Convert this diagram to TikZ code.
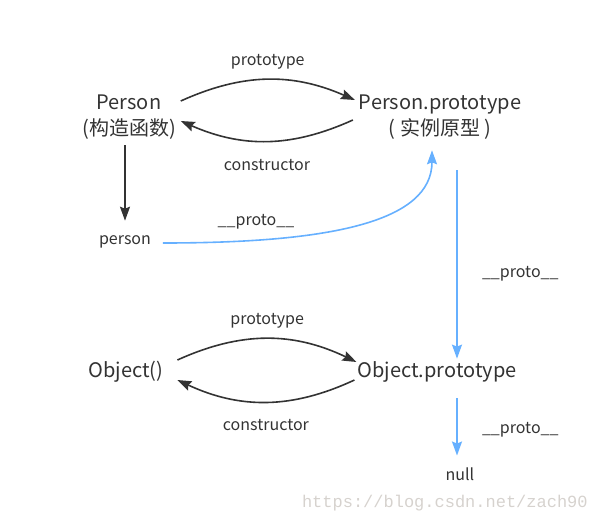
\documentclass[tikz,border=0pt]{standalone}
\usepackage{fontspec}
\setmainfont{Noto Sans CJK SC}
\newfontfamily\markfont{Liberation Mono}
\usetikzlibrary{arrows.meta,positioning}

\definecolor{ink}{RGB}{51,51,51}
\definecolor{protoblue}{RGB}{102,176,255}
\definecolor{markgray}{RGB}{214,210,206}

\begin{document}
\begin{tikzpicture}[x=1pt, y=-1pt,
	every node/.style={text=ink, inner sep=0pt, outer sep=4pt},
	big/.style={font=\fontsize{20}{26}\selectfont, align=center},
	small/.style={font=\fontsize{16}{19}\selectfont, inner sep=3pt, outer sep=0pt},
	blackline/.style={draw=ink, line width=1.6pt, arrows={-Stealth[length=14pt,width=10pt,inset=2pt]}},
	blueline/.style={draw=protoblue, line width=1.6pt, arrows={-Stealth[length=14pt,width=10pt,inset=2pt]}}]
	\useasboundingbox (0,0) rectangle (590,525);

	\node[big] (Person) at (129,117) {Person\\(构造函数)};
	\node[big] (Pproto) at (440,117) {Person.prototype\\( 实例原型 )};
	\node[small] (person) at (125,242) {person};
	\node[big] (Obj) at (126,372) {Object()};
	\node[big] (Oproto) at (437,372) {Object.prototype};
	\node[small] (null) at (460,474) {null};

	% Person <-> Person.prototype
	\draw [blackline] ([xshift=1pt,yshift=16pt]Person.east) to[bend left=24]
		node [small,midway,above=7pt] {prototype} ([yshift=17pt]Pproto.west);
	\draw [blackline] ([xshift=-2pt,yshift=-3pt]Pproto.west) to[bend left=24]
		node [small,midway,below=15pt] {constructor} ([xshift=1pt,yshift=-4pt]Person.east);
	\draw [blackline] ([xshift=-4pt,yshift=-2pt]Person.south) -- ([yshift=12pt]person.north);

	% __proto__ chain
	\draw [blueline] ([xshift=9pt,yshift=-1pt]person.east) .. controls +(166,0) and +(0,72) ..
		([xshift=-8pt,yshift=-7pt]Pproto.south);
	\node[small] at (256,222) {\_\_proto\_\_};
	\draw [blueline] ([xshift=17pt,yshift=-27pt]Pproto.south) -- ([xshift=20pt,yshift=-1pt]Oproto.north)
		node [small,pos=0.55,right=22pt] {\_\_proto\_\_};

	% Object() <-> Object.prototype
	\draw [blackline] ([xshift=10pt,yshift=12pt]Obj.east) to[bend left=25]
		node [small,midway,above=8pt] {prototype} ([xshift=3pt,yshift=10pt]Oproto.west);
	\draw [blackline] ([xshift=1pt,yshift=-8pt]Oproto.west) to[bend left=25]
		node [small,midway,below=14pt] {constructor} ([xshift=10pt,yshift=-8pt]Obj.east);
	\draw [blueline] ([xshift=20pt,yshift=-12pt]Oproto.south) -- ([xshift=-3pt,yshift=9pt]null.north)
		node [small,pos=0.55,right=22pt] {\_\_proto\_\_};

	\node[font=\markfont\fontsize{17}{20}\selectfont, text=markgray, anchor=west] (mark) at (298,503) {https://blog.csdn.net/zach90};
\end{tikzpicture}
\end{document}
